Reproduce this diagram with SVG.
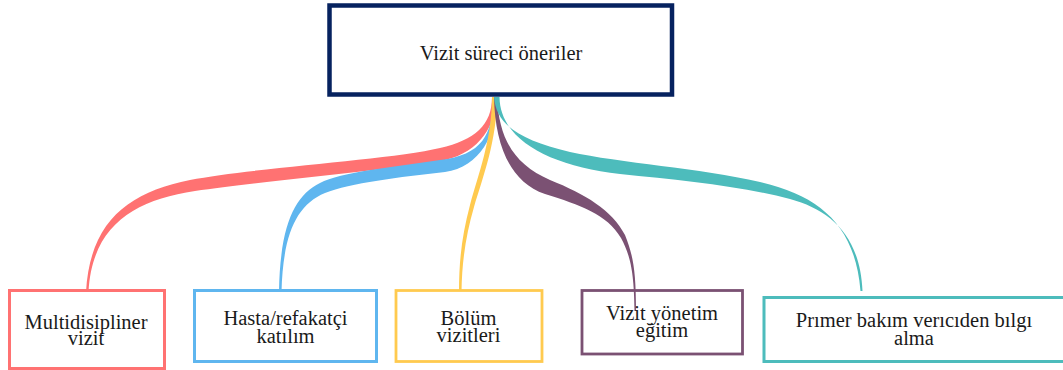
<svg xmlns="http://www.w3.org/2000/svg" width="1063" height="370" viewBox="0 0 1063 370">
  <style>
    .lbl { font-family: "Liberation Serif", "Times New Roman", serif; font-size: 20.5px; fill: #1a1a1a; text-anchor: middle; }
    .box { fill: #ffffff; }
  </style>
  <rect width="1063" height="370" fill="#ffffff"/>

  <!-- tapered branches fanning out from the root -->
  <g id="connectors">
    <path id="link-multidisipliner" fill="#ff7272"
      d="M 492,97 C 492,125 475,140 440,148 C 390,160 250,168 190,180 C 130,192 90,220 86,292
         L 88.5,292 C 92,225 135,200 195,191 C 260,181 395,170 445,160 C 480,152 496,125 496,97 Z"/>
    <path id="link-hasta" fill="#5fb6ef"
      d="M 493,97 C 493,135 482,155 440,160 C 395,167 340,172 320,183 C 295,195 280,225 279,292
         L 281.5,292 C 283,235 296,205 325,193 C 350,183 400,177 445,172 C 480,167 497,135 497,97 Z"/>
    <path id="link-bolum" fill="#ffca4f"
      d="M 492,97 C 492,140 478,175 470,205 C 462,235 459,260 459,292
         L 461.5,292 C 462,260 466,235 474,207 C 483,177 497,140 497,97 Z"/>
    <path id="link-yonetim" fill="#7b5173"
      d="M 497,97 C 499,140 515,165 550,180 C 585,194 612,210 625,235 C 633,255 636,270 636,311
         L 634.5,311 C 634,270 630,255 621,238 C 607,214 580,205 545,194 C 510,182 495,145 494,97 Z"/>
    <path id="link-primer" fill="#4dbcbc"
      d="M 494,97 C 496,125 520,140 570,152 C 620,163 700,168 760,182 C 820,196 855,225 860.5,291
         L 862.5,291 C 860,235 830,210 790,199 C 740,186 680,180 620,174 C 550,166 500,140 499.5,97 Z"/>
  </g>

  <!-- root -->
  <g id="node-root">
    <rect class="box" x="329.5" y="5.5" width="342.5" height="89" stroke="#06225f" stroke-width="4.5"/>
    <text class="lbl" x="501" y="60">Vizit süreci öneriler</text>
  </g>

  <!-- children -->
  <g id="node-multidisipliner">
    <rect class="box" x="9.5" y="290.5" width="155" height="78" stroke="#ff7272" stroke-width="3"/>
    <text class="lbl" x="86" y="329">Multidisipliner</text>
    <text class="lbl" x="86" y="345">vizit</text>
  </g>

  <g id="node-hasta">
    <rect class="box" x="194.5" y="290.5" width="182" height="71" stroke="#5fb6ef" stroke-width="3"/>
    <text class="lbl" x="285.5" y="325">Hasta/refakatçi</text>
    <text class="lbl" x="285.5" y="342.5">katılım</text>
  </g>

  <g id="node-bolum">
    <rect class="box" x="396" y="290.5" width="146" height="71" stroke="#ffca4f" stroke-width="2.8"/>
    <text class="lbl" x="468.5" y="325">Bölüm</text>
    <text class="lbl" x="468.5" y="342">vizitleri</text>
  </g>

  <g id="node-yonetim">
    <rect class="box" x="582" y="290.5" width="160.5" height="63.5" stroke="#7b5173" stroke-width="2.8" fill-opacity="0"/>
    <text class="lbl" x="662" y="320">Vizit yönetim</text>
    <text class="lbl" x="662" y="336.5">eğitim</text>
  </g>

  <g id="node-primer">
    <rect class="box" x="764" y="297.5" width="303" height="64" stroke="#4dbcbc" stroke-width="3"/>
    <text class="lbl" x="914" y="327">Prımer bakım verıcıden bılgı</text>
    <text class="lbl" x="914" y="345">alma</text>
  </g>
</svg>
